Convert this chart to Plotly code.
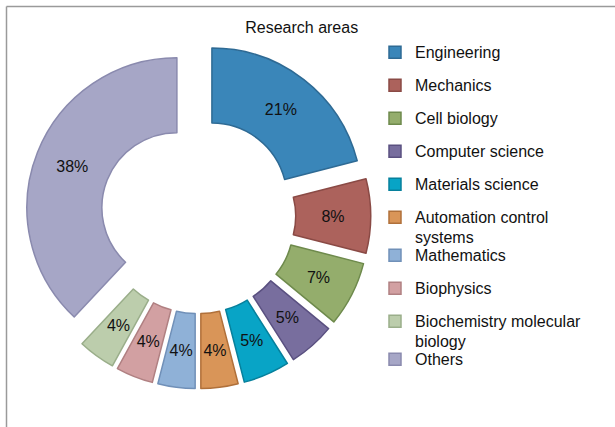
import plotly.graph_objects as go

categories = ["Engineering", "Mechanics", "Cell biology", "Computer science",
              "Materials science", "Automation control systems", "Mathematics",
              "Biophysics", "Biochemistry molecular biology", "Others"]
legend_labels = ["Engineering", "Mechanics", "Cell biology", "Computer science",
                 "Materials science", "Automation control<br>systems", "Mathematics",
                 "Biophysics", "Biochemistry molecular<br>biology", "Others"]
values = [21, 8, 7, 5, 5, 4, 4, 4, 4, 38]
fill_colors = ["#3A86B9", "#AC625C", "#94AD6C", "#786E9E", "#08A4C6",
               "#D99558", "#8FB1D7", "#D2A0A2", "#BCCDAC", "#A6A6C6"]
line_colors = ["#2E6A94", "#8A4A45", "#6E8A4C", "#5A5080", "#06809C",
               "#B0703A", "#7090B8", "#B08082", "#9AAE8A", "#8A8AAE"]

W, H = 615, 427
FONT = "Liberation Sans, Arial, Helvetica, sans-serif"
LH = 5.0                      # legend line unit (px)
SP = '<span style="font-size:16px;baseline-shift:-4px">'
BLANK = "<br> "


def leg(lbl):
    parts = lbl.split("<br>")
    if len(parts) == 1:
        return SP + parts[0] + "</span>" + BLANK * 5
    return SP + parts[0] + "</span>" + BLANK * 3 + "<br>" + SP + parts[1] + "</span>" + BLANK * 2


labels = [leg(l) for l in legend_labels]

# geometry of the ring (pixels)
cx, cy = 198, 216
R_OUT, PULL_PX = 150, 22.7
HOLE = 0.5
R_LBL = (1 + HOLE) / 2 * R_OUT / 0.9   # thin label ring whose centre line is mid-band
PCT = "%{percent:.0%}"
big = [v > 20 for v in values]


def dom(r, pull_frac):
    half = r * (1 + pull_frac)
    return dict(x=[(cx - half) / W, (cx + half) / W],
                y=[1 - (cy + half) / H, 1 - (cy - half) / H])


fig = go.Figure()
fig.add_trace(go.Pie(
    labels=labels,
    values=values,
    hole=HOLE,
    sort=False,
    direction="clockwise",
    rotation=0,
    pull=[PULL_PX / R_OUT] * len(values),
    marker=dict(colors=fill_colors, line=dict(color=line_colors, width=1.5)),
    texttemplate=[PCT if b else " " for b in big],
    textposition="inside",
    insidetextorientation="horizontal",
    textfont=dict(family=FONT, size=16, color="#111111"),
    hoverinfo="label+percent",
    domain=dom(R_OUT, PULL_PX / R_OUT),
    showlegend=True,
))
fig.add_trace(go.Pie(
    labels=labels,
    values=values,
    hole=0.8,
    sort=False,
    direction="clockwise",
    rotation=0,
    pull=[PULL_PX / R_LBL] * len(values),
    marker=dict(colors=["rgba(0,0,0,0)"] * len(values), line=dict(width=0)),
    texttemplate=[" " if b else PCT for b in big],
    textposition="inside",
    insidetextorientation="horizontal",
    textfont=dict(family=FONT, size=16, color="#111111"),
    hoverinfo="skip",
    domain=dom(R_LBL, PULL_PX / R_LBL),
    showlegend=False,
))

fig.update_layout(
    width=W, height=H,
    margin=dict(l=0, r=0, t=0, b=0),
    paper_bgcolor="white",
    plot_bgcolor="white",
    font=dict(family=FONT, color="#111111"),
    uniformtext=dict(minsize=16, mode="show"),
    title=dict(text="Research areas", x=301.7 / W, xanchor="center",
               y=1 - 27.7 / H, yanchor="middle", yref="container",
               font=dict(family=FONT, size=16, color="#111111")),
    legend=dict(x=375 / W, xanchor="left", y=1 - 43.2 / H, yanchor="top",
                valign="top", font=dict(family=FONT, size=LH / 1.3, color="#111111"),
                bgcolor="rgba(0,0,0,0)", traceorder="normal"),
    shapes=[
        dict(type="line", xref="paper", yref="paper", x0=6.5 / W, x1=1, y0=1 - 6.5 / H, y1=1 - 6.5 / H,
             line=dict(color="#9A9A9A", width=1.5)),
        dict(type="line", xref="paper", yref="paper", x0=6.5 / W, x1=6.5 / W, y0=0, y1=1 - 6.5 / H,
             line=dict(color="#9A9A9A", width=1.5)),
    ],
)

fig.write_html("out.html", config={"displayModeBar": False},
               post_script="document.body.style.margin='0';")
